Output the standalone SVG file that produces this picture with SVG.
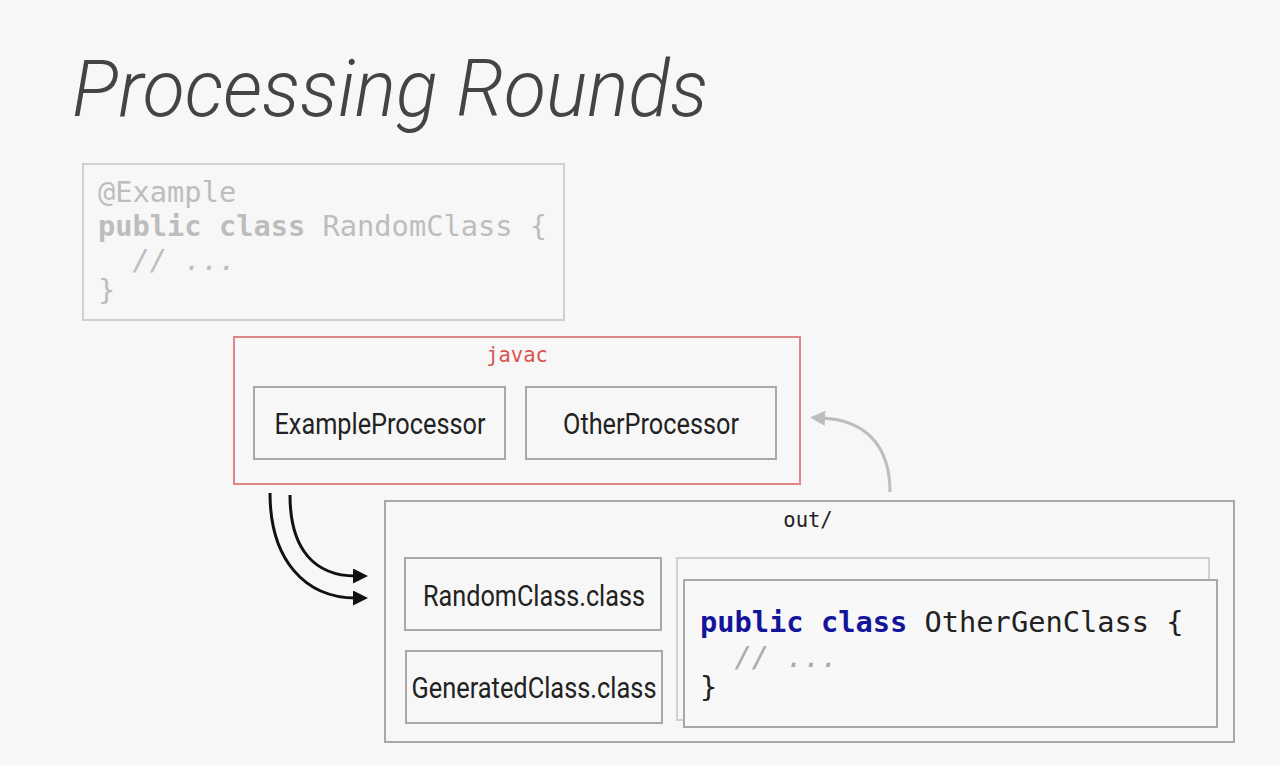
<svg xmlns="http://www.w3.org/2000/svg" width="1280" height="765" viewBox="0 0 1280 765">
<defs>
<style>
.box{fill:none;stroke:#a8a8a8;stroke-width:2}
.lbl{font-family:Roboto,"Liberation Sans",sans-serif;font-size:30px;fill:#222;text-anchor:middle}
.mono{font-family:"DejaVu Sans Mono","Liberation Mono",monospace}
</style>
<marker id="ab" viewBox="0 0 10 10" refX="2" refY="5" markerWidth="6" markerHeight="5" orient="auto" markerUnits="strokeWidth"><path d="M0,0 L10,5 L0,10 z" fill="#111"/></marker>
<marker id="ag" viewBox="0 0 10 10" refX="2" refY="5" markerWidth="6" markerHeight="5" orient="auto" markerUnits="strokeWidth"><path d="M0,0 L10,5 L0,10 z" fill="#bdbdbd"/></marker>
</defs>
<rect width="1280" height="765" fill="#f7f7f7"/>
<text x="72" y="116" font-family="Roboto,'Liberation Sans',sans-serif" font-weight="300" font-style="italic" font-size="80" fill="#444" textLength="636" lengthAdjust="spacingAndGlyphs">Processing Rounds</text>

<g id="source">
<rect x="83" y="164" width="481" height="156" fill="none" stroke="#cfcfcf" stroke-width="2"/>
<text class="mono" font-size="28.7" fill="#bdbdbd" xml:space="preserve"><tspan x="98" y="202">@Example</tspan><tspan x="98" y="236"><tspan font-weight="bold">public class</tspan> RandomClass {</tspan><tspan x="98" y="270" font-style="italic">  // ...</tspan><tspan x="98" y="300">}</tspan></text>
</g>

<g id="javac">
<rect x="234" y="337" width="566" height="147" fill="none" stroke="#e08585" stroke-width="2"/>
<text class="mono" x="517" y="362" font-size="20.5" fill="#d9534f" text-anchor="middle">javac</text>
</g>
<g id="exampleProcessor">
<rect class="box" x="254" y="387" width="251" height="72"/>
<text class="lbl" x="380" y="434" textLength="211" lengthAdjust="spacingAndGlyphs">ExampleProcessor</text>
</g>
<g id="otherProcessor">
<rect class="box" x="526" y="387" width="250" height="72"/>
<text class="lbl" x="651" y="434" textLength="176" lengthAdjust="spacingAndGlyphs">OtherProcessor</text>
</g>

<g id="out">
<rect class="box" x="385" y="501" width="849" height="241"/>
<text class="mono" x="808" y="527" font-size="20.5" fill="#222" text-anchor="middle">out/</text>
</g>
<g id="randomClass">
<rect class="box" x="405" y="558" width="256" height="72"/>
<text class="lbl" x="534" y="606" textLength="222" lengthAdjust="spacingAndGlyphs">RandomClass.class</text>
</g>
<g id="generatedClass">
<rect class="box" x="406" y="651" width="256" height="72"/>
<text class="lbl" x="534" y="698" textLength="245" lengthAdjust="spacingAndGlyphs">GeneratedClass.class</text>
</g>
<g id="backSource">
<rect x="677" y="558" width="532" height="162" fill="#f7f7f7" stroke="#cfcfcf" stroke-width="2"/>
</g>
<g id="otherGenClass">
<rect x="684" y="580" width="533" height="147" fill="#f8f8f8" stroke="#a8a8a8" stroke-width="2"/>
<text class="mono" font-size="28.7" fill="#222" xml:space="preserve"><tspan x="700" y="632"><tspan font-weight="bold" fill="#14149a">public class</tspan> OtherGenClass {</tspan><tspan x="700" y="667" font-style="italic" fill="#aaa">  // ...</tspan><tspan x="700" y="697">}</tspan></text>
</g>

<g id="connectors" fill="none">
<path d="M270,493 C270,560 305,598 356,598" stroke="#111" stroke-width="3" marker-end="url(#ab)"/>
<path d="M290,495 C290,550 315,576 356,576" stroke="#111" stroke-width="3" marker-end="url(#ab)"/>
<path d="M890,492 C890,445 865,420 822,418" stroke="#bdbdbd" stroke-width="3" marker-end="url(#ag)"/>
</g>
</svg>
